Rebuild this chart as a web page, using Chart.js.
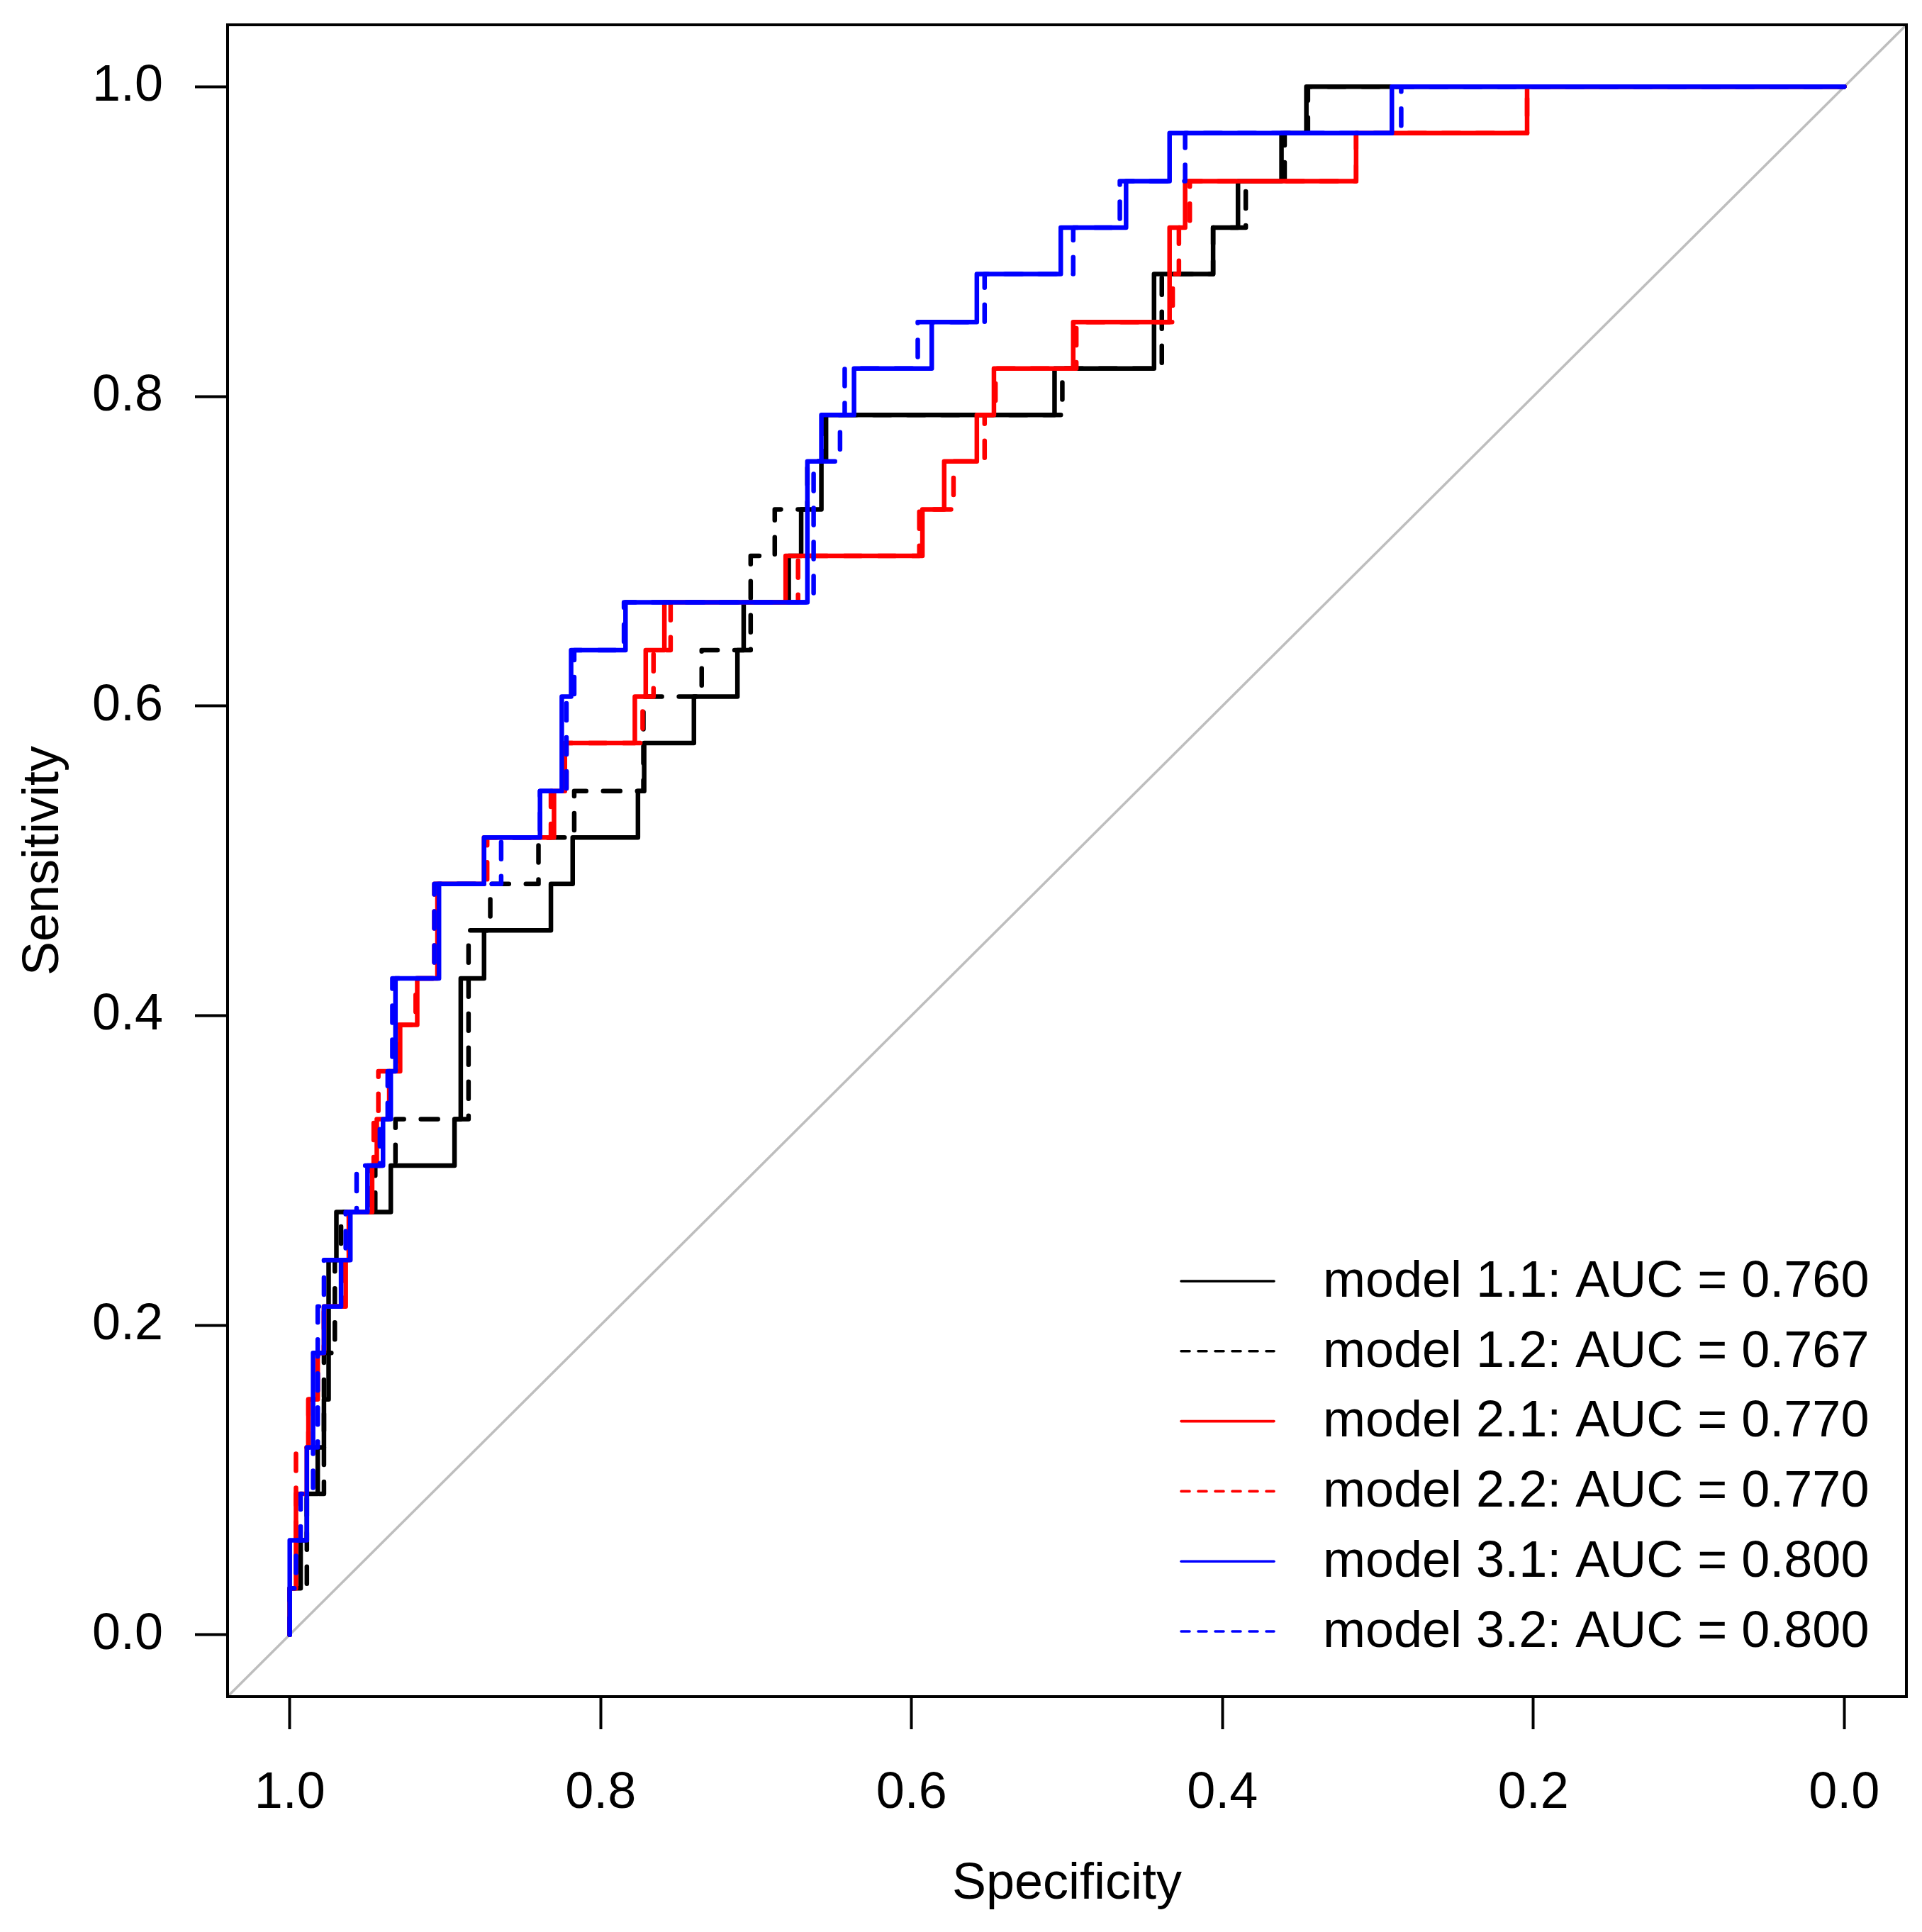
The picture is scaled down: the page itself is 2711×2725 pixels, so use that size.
<!DOCTYPE html>
<html>
<head>
<meta charset="utf-8">
<title>ROC curves</title>
<script src="https://cdn.jsdelivr.net/npm/chart.js@4.4.0/dist/chart.umd.min.js"></script>
<style>
  html, body { margin: 0; padding: 0; background: #ffffff; }
  canvas { display: block; }
</style>
</head>
<body>
<canvas id="roc" width="2711" height="2725"></canvas>
<script>
// ROC curves (specificity, sensitivity corners)

const specTicks = [1.0, 0.8, 0.6, 0.4, 0.2, 0.0];
const sensTicks = [0.0, 0.2, 0.4, 0.6, 0.8, 1.0];

const modelLabels = [
    'model 1.1: AUC = 0.760',
    'model 1.2: AUC = 0.767',
    'model 2.1: AUC = 0.770',
    'model 2.2: AUC = 0.770',
    'model 3.1: AUC = 0.800',
    'model 3.2: AUC = 0.800'
];

// model 1.1
const spec11 = [1, 1, 0.993, 0.989, 0.982, 0.978, 0.975, 0.970, 0.935, 0.894, 0.890, 0.875, 0.832, 0.818, 0.776, 0.772, 0.740, 0.712, 0.708, 0.679, 0.671, 0.658, 0.655, 0.508, 0.444, 0.406, 0.390, 0.362, 0.346, 0];
const sens11 = [0, 0.030, 0.061, 0.091, 0.121, 0.152, 0.242, 0.273, 0.303, 0.333, 0.424, 0.455, 0.485, 0.515, 0.545, 0.576, 0.606, 0.636, 0.667, 0.697, 0.727, 0.758, 0.788, 0.818, 0.879, 0.909, 0.939, 0.970, 1.0, 1.0];

// model 1.2
const spec12 = [1, 1, 0.989, 0.978, 0.971, 0.967, 0.945, 0.932, 0.885, 0.871, 0.840, 0.817, 0.7725, 0.735, 0.7035, 0.688, 0.667, 0.656, 0.503, 0.439, 0.406, 0.385, 0.360, 0.345, 0];
const sens12 = [0, 0.030, 0.091, 0.182, 0.242, 0.273, 0.303, 0.333, 0.455, 0.485, 0.515, 0.545, 0.606, 0.636, 0.697, 0.727, 0.758, 0.788, 0.818, 0.879, 0.909, 0.939, 0.970, 1.0, 1.0];

// model 2.1
const spec21 = [1, 1, 0.996, 0.989, 0.988, 0.982, 0.978, 0.964, 0.962, 0.947, 0.944, 0.936, 0.929, 0.918, 0.905, 0.875, 0.830, 0.823, 0.778, 0.771, 0.759, 0.681, 0.593, 0.579, 0.558, 0.547, 0.496, 0.434, 0.424, 0.314, 0.204, 0];
const sens21 = [0, 0.030, 0.091, 0.121, 0.152, 0.182, 0.212, 0.242, 0.273, 0.303, 0.333, 0.364, 0.394, 0.424, 0.485, 0.515, 0.545, 0.576, 0.606, 0.636, 0.667, 0.697, 0.727, 0.758, 0.788, 0.818, 0.848, 0.909, 0.939, 0.970, 1.0, 1.0];

// model 2.2
const spec22 = [1, 1, 0.996, 0.988, 0.982, 0.978, 0.965, 0.962, 0.948, 0.946, 0.943, 0.931, 0.919, 0.907, 0.873, 0.832, 0.822, 0.773, 0.766, 0.755, 0.673, 0.595, 0.573, 0.553, 0.546, 0.494, 0.432, 0.428, 0.421, 0.314, 0.204, 0];
const sens22 = [0, 0.030, 0.121, 0.152, 0.182, 0.212, 0.242, 0.273, 0.303, 0.333, 0.364, 0.394, 0.424, 0.485, 0.515, 0.545, 0.576, 0.606, 0.636, 0.667, 0.697, 0.727, 0.758, 0.788, 0.818, 0.848, 0.879, 0.909, 0.939, 0.970, 1.0, 1.0];

// model 3.1
const spec31 = [1, 1, 0.989, 0.985, 0.978, 0.967, 0.961, 0.950, 0.940, 0.935, 0.932, 0.904, 0.875, 0.839, 0.825, 0.819, 0.784, 0.667, 0.658, 0.637, 0.587, 0.558, 0.504, 0.462, 0.434, 0.291, 0];
const sens31 = [0, 0.061, 0.121, 0.182, 0.212, 0.242, 0.273, 0.303, 0.333, 0.364, 0.424, 0.485, 0.515, 0.545, 0.606, 0.636, 0.667, 0.758, 0.788, 0.818, 0.848, 0.879, 0.909, 0.939, 0.970, 1.0, 1.0];

// model 3.2
const spec32 = [1, 1, 0.996, 0.993, 0.985, 0.982, 0.978, 0.964, 0.957, 0.942, 0.937, 0.934, 0.907, 0.864, 0.839, 0.822, 0.817, 0.785, 0.663, 0.646, 0.643, 0.596, 0.553, 0.496, 0.466, 0.424, 0.285, 0];
const sens32 = [0, 0.030, 0.061, 0.091, 0.121, 0.212, 0.242, 0.273, 0.303, 0.333, 0.364, 0.424, 0.485, 0.515, 0.545, 0.606, 0.636, 0.667, 0.758, 0.788, 0.818, 0.848, 0.879, 0.909, 0.939, 0.970, 1.0, 1.0];

// chance line, corner to corner of the plot region
const diagSpec = [1.04, -0.04];
const diagSens = [-0.04, 1.04];

const FONT = '"Liberation Sans", Arial, sans-serif';
const FONT_SIZE = 72;
const LINE_W = 6.5;
const DASH = [24, 24];

function toPoints(xs, ys) {
    return xs.map((x, i) => ({ x: x, y: ys[i] }));
}

function rocSet(label, xs, ys, color, dashed, order) {
    return {
        label: label,
        data: toPoints(xs, ys),
        borderColor: color,
        borderWidth: LINE_W,
        borderDash: dashed ? DASH : [],
        borderCapStyle: 'round',
        borderJoinStyle: 'round',
        stepped: 'before',
        showLine: true,
        pointRadius: 0,
        pointHoverRadius: 0,
        fill: false,
        order: order
    };
}

const datasets = [
    {
        label: 'diagonal',
        data: toPoints(diagSpec, diagSens),
        borderColor: '#bebebe',
        borderWidth: 3.5,
        showLine: true,
        pointRadius: 0,
        fill: false,
        order: 10
    },
    rocSet(modelLabels[0], spec11, sens11, '#000000', false, 6),
    rocSet(modelLabels[1], spec12, sens12, '#000000', true, 5),
    rocSet(modelLabels[2], spec21, sens21, '#ff0000', false, 4),
    rocSet(modelLabels[3], spec22, sens22, '#ff0000', true, 3),
    rocSet(modelLabels[4], spec31, sens31, '#0000ff', false, 2),
    rocSet(modelLabels[5], spec32, sens32, '#0000ff', true, 1)
];

// box around the plot region
const boxPlugin = {
    id: 'plotBox',
    afterDraw(chart) {
        const { ctx, chartArea: a } = chart;
        ctx.save();
        ctx.strokeStyle = '#000000';
        ctx.lineWidth = 4;
        ctx.strokeRect(a.left, a.top, a.right - a.left, a.bottom - a.top);
        ctx.restore();
    }
};

// legend in the bottom right, drawn like R's legend()
const rocLegend = {
    id: 'rocLegend',
    afterDraw(chart) {
        const ctx = chart.ctx;
        const sets = chart.data.datasets.slice(1);
        const lineX0 = 1666, lineX1 = 1797, textX = 1866;
        const rowY0 = 1807, rowStep = 98.8;
        ctx.save();
        ctx.font = FONT_SIZE + 'px ' + FONT;
        ctx.textBaseline = 'middle';
        ctx.textAlign = 'left';
        sets.forEach((ds, i) => {
            const y = rowY0 + i * rowStep;
            ctx.beginPath();
            ctx.strokeStyle = ds.borderColor;
            ctx.lineWidth = LINE_W * 0.55;
            ctx.lineCap = 'round';
            ctx.setLineDash(ds.borderDash.length ? [12, 12] : []);
            ctx.moveTo(lineX0, y);
            ctx.lineTo(lineX1, y);
            ctx.stroke();
            ctx.setLineDash([]);
            ctx.fillStyle = '#000000';
            ctx.fillText(ds.label, textX, y + 2);
        });
        ctx.restore();
    }
};

const tickFont = { family: FONT, size: FONT_SIZE };
const tickGrid = {
    display: true,
    drawOnChartArea: false,
    drawTicks: true,
    tickLength: 46,
    tickWidth: 4,
    tickColor: '#000000',
    color: '#000000'
};

new Chart(document.getElementById('roc'), {
    type: 'scatter',
    data: { datasets: datasets },
    options: {
        responsive: false,
        devicePixelRatio: 1,
        animation: false,
        layout: { padding: { top: 35, right: 22, left: 0, bottom: 0 } },
        plugins: {
            legend: { display: false },
            tooltip: { enabled: false }
        },
        scales: {
            x: {
                type: 'linear',
                reverse: true,
                min: -0.04,
                max: 1.04,
                afterBuildTicks: (s) => { s.ticks = specTicks.map(v => ({ value: v })); },
                afterFit: (s) => {
                    s.height = 332;
                    s.paddingLeft = 0;
                    s.paddingRight = 0;
                },
                ticks: {
                    callback: (v) => Number(v).toFixed(1),
                    font: tickFont,
                    color: '#000000',
                    padding: 48,
                    maxRotation: 0,
                    autoSkip: false
                },
                grid: tickGrid,
                border: { display: false },
                title: {
                    display: true,
                    text: 'Specificity',
                    font: tickFont,
                    color: '#000000',
                    padding: { top: 0, bottom: 24 }
                }
            },
            y: {
                type: 'linear',
                min: -0.04,
                max: 1.04,
                afterBuildTicks: (s) => { s.ticks = sensTicks.map(v => ({ value: v })); },
                afterFit: (s) => {
                    s.width = 321;
                    s.paddingTop = 0;
                    s.paddingBottom = 0;
                },
                ticks: {
                    callback: (v) => Number(v).toFixed(1),
                    font: tickFont,
                    color: '#000000',
                    padding: 45,
                    autoSkip: false
                },
                grid: tickGrid,
                border: { display: false },
                title: {
                    display: true,
                    text: 'Sensitivity',
                    font: tickFont,
                    color: '#000000',
                    padding: { top: 19, bottom: 0 }
                }
            }
        }
    },
    plugins: [boxPlugin, rocLegend]
});
</script>
</body>
</html>
